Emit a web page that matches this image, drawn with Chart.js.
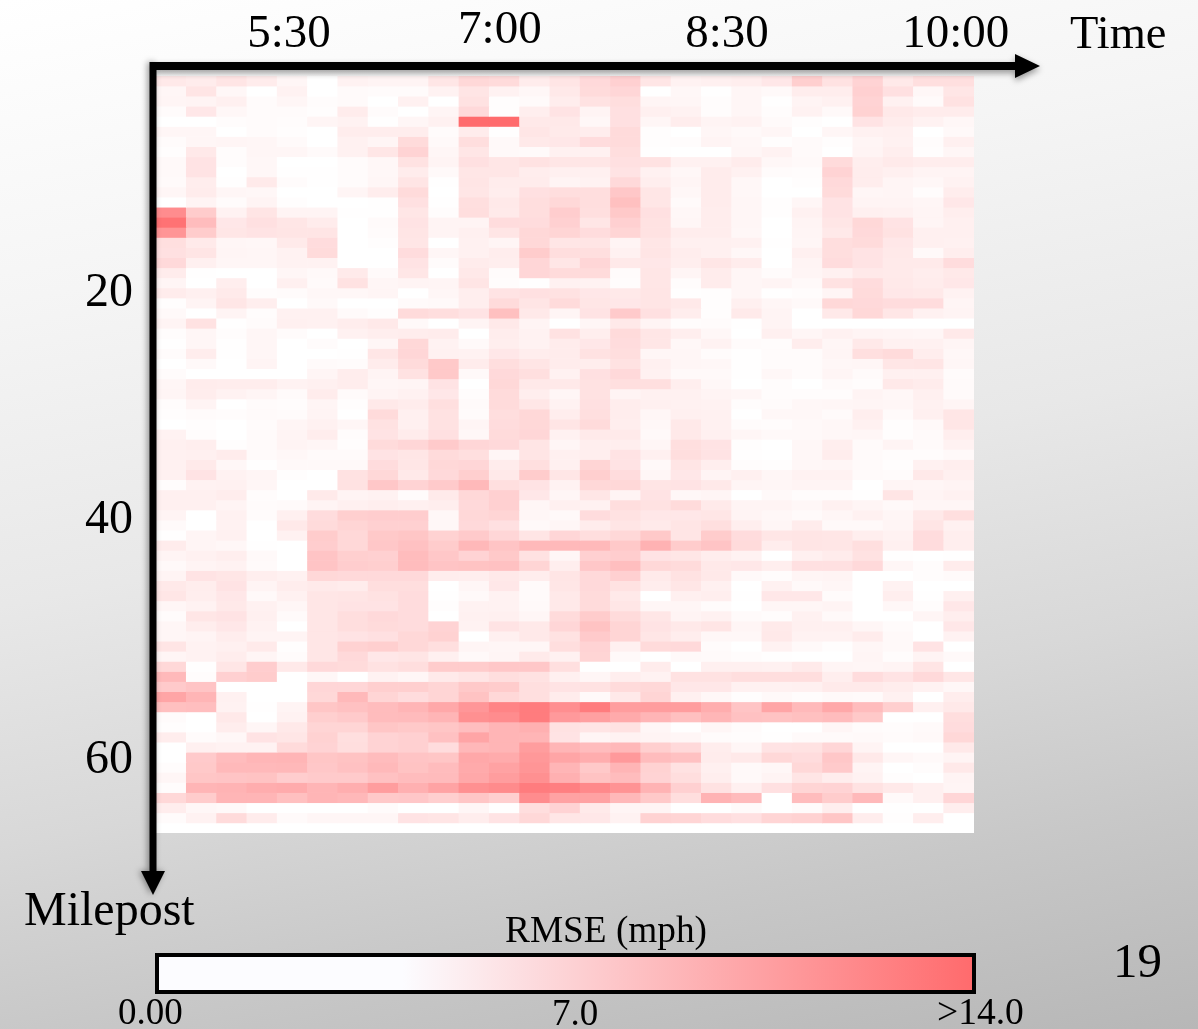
<!DOCTYPE html>
<html lang="en">
<head>
  <meta charset="UTF-8">
  <title>RMSE by Time and Milepost</title>
  <script src="https://cdn.jsdelivr.net/npm/chart.js"></script>
  <style>
    html, body { margin: 0; width: 1198px; height: 1029px; overflow: hidden; }
    body {
      position: relative;
      background: linear-gradient(169deg, #ffffff 0%, #f5f5f5 24%, #e8e8e8 48%, #d8d8d8 67%, #c8c8c8 82%, #b7b7b7 100%);
      font-family: "Liberation Serif", serif;
      color: #000;
    }
    #heatmap { position: absolute; left: 0; top: 0; }
    .label { position: absolute; line-height: 1; white-space: nowrap; }
    #colorbar {
      position: absolute; left: 155px; top: 953px; width: 813px; height: 33px;
      border: 4px solid #000;
    }
  </style>
</head>
<body>
  <canvas id="heatmap" width="1198" height="1029"></canvas>
  <div class="label" style="left:1070px; top:10px; font-size:46.5px">Time</div>
  <div class="label" style="left:24px; top:885px; font-size:48px">Milepost</div>
  <div class="label" style="left:505px; top:911px; font-size:37.3px">RMSE (mph)</div>
  <div class="label" style="left:1113px; top:936px; font-size:49px">19</div>
  <div id="colorbar"></div>
  <div class="label" style="left:118px; top:993px; font-size:37px">0.00</div>
  <div class="label" style="left:552px; top:994px; font-size:37px">7.0</div>
  <div class="label" style="left:937px; top:993px; font-size:37.5px">&gt;14.0</div>
  <script>
    // tick labels, hand placed on the slide so they sit at fractional cells
    const timeLabels = ['5:30', '7:00', '8:30', '10:00'];
    const timeCols = [4.39, 11.35, 18.85, 26.4];
    const milepostLabels = ['20', '40', '60'];
    const milepostRows = [21.5, 44, 67.8];

    // colour scale: white up to 30% of the bar, then up to full red at 14 mph
    const rmseMax = 14;
    const whiteUntil = 0.3;
    const lowColor = [255, 255, 255];
    const highColor = [255, 107, 109];

    // RMSE in mph, one row per milepost step, one value per time step
    const rmse = [
      [6,5.8,6.3,5.8,5,4,5.3,5.2,5.2,6.2,7.2,7,5.8,6.3,7.1,7.7,6.2,5.3,5.5,5.6,6.1,7.8,6.5,7.5,6,6.7,6.7],
      [5,6.3,4.9,4,5.3,4,4.7,4.6,4.6,5.3,6.3,5.3,4.9,6,7,7.3,4.2,4.9,4.3,5,4.8,5.7,5.7,7.7,6.6,4.9,6.2],
      [5.1,5.2,5.5,4.6,5,4.5,4.7,4,5.4,4.2,6.5,4.4,4.7,5.7,6.5,6.8,5.1,5,4.5,5,4.3,5.2,5.4,7.5,5.4,4.7,6.5],
      [4.6,6.1,4.9,4.6,4.6,4.4,5.8,4.6,4.1,5.1,7.1,4.4,5.6,6.4,5.2,6.6,5.5,5.3,4.5,5,4.5,5.3,4.8,7.6,6,5.8,5.8],
      [4,4,4.5,4.6,4.5,5.1,5.3,4.3,5,5.4,14,14,6,6,4.9,6.6,5,5.7,5.2,5.3,4.7,4.4,4,6.4,5.8,5.3,4.9],
      [5,5,4.1,4.6,4.4,4.2,5.7,5.7,5.7,4.6,5.8,4.3,6.2,5.9,5.7,7,4.4,4,5,4.8,5,4,5,5.4,5.5,4,4.8],
      [4.6,5,5.1,5,4.7,4.2,5.4,5.1,7,4.8,6.8,4.8,6,6.1,6.9,7,4.4,4.5,5.2,4.9,4.4,4.7,4.4,5.1,5.4,4.5,5.5],
      [4.4,6,4.5,5,5,4.7,5.4,6.2,7.5,5,6.2,4.8,4.7,5.4,5.4,6.8,4.3,4,4,5,5.3,4.7,4.2,5.2,5.6,4.4,5],
      [4.8,6.4,4.5,4.9,4.1,4.1,4.6,4.9,6.5,5.2,6.6,6.2,6.5,6.2,6.2,6.6,6.5,5.4,5.4,5.8,4.9,4.8,7,5.6,5.9,5.7,5.7],
      [4.8,6.4,4,4.9,4.3,4.3,4.6,4.9,5.8,4.8,6.2,6.2,5.7,5.5,5.5,6.4,5.4,4.9,5.8,5.4,4.6,4.5,7.5,5.7,5.5,5.2,5.2],
      [4.7,5.7,4.3,5.9,4.6,4.3,4.6,5,6.3,4.3,6.3,5.8,5.8,5.2,5.3,7.1,5.6,5.1,5.8,4.9,4.1,4.4,7.1,5.7,5.1,4.9,5.3],
      [5,5.8,5,4.9,4.2,4,5.1,5.7,7,4.1,6.2,5.7,6.6,6.8,6.8,8.3,6.2,4.9,5.8,4.9,4,4,7,5,5.1,4.5,5.7],
      [4,5.2,4.6,5.2,4.4,4,4.1,4.3,6.6,4.3,6.7,6,6.8,7.2,6.8,8.8,6.2,4.7,5.8,5,4.4,5,6.4,5.2,5.2,5,6.1],
      [12,8,5.3,6.3,5.2,5.2,4.3,4.3,6.2,4.5,6.8,5.9,6.8,7.9,6.7,8.2,6.6,4.9,5.7,5,4.4,5.4,6.4,5.5,5.4,5.1,5.6],
      [13.6,9,6.1,6.6,6.2,5.8,4,4.7,6.4,5.2,5.2,6.9,6.9,7.7,6.2,7.7,6.5,5,5.7,5,4.1,5.2,6.2,7.2,6.4,5.1,5.5],
      [11.5,8,6.2,6.4,6.3,6.3,4,4.6,6.3,5.2,5.5,6.3,7.2,7.4,6.9,7.4,6.5,5.7,5.7,4.9,4,5.1,6,7.1,6.5,5.5,5.5],
      [6.7,5.9,5,4.9,5.9,6.9,4,4.4,6.2,4.1,5.4,5.1,7.2,6.2,6.3,5.2,6.2,5.5,5.5,5.4,4.3,5,6.8,7,6.1,5.5,5.4],
      [6.6,6.3,5.1,5,5.3,7,4.1,4.1,6.9,5,5.4,5.7,8,6.8,6.7,5.4,6.3,5.7,5.5,4.9,4.2,5.5,6.8,6.4,6,4.8,5.6],
      [7.1,5.5,5,5,5.3,5.3,4.1,4.1,6.4,4.6,5.8,5.6,7.3,6.2,7.3,6,6.1,5.6,6.2,5.8,4.2,5.2,6.9,6.4,5.9,5.9,6.9],
      [5.8,4.3,4.2,4,5,4.8,5.9,4.7,6.2,4.1,6,4.6,7.3,7,7,4.6,6.2,5.1,5.8,5,4.6,5.1,5.4,6,5.9,5.7,6],
      [5.1,4.2,5.6,4,5.5,4.7,6.5,5,5.2,5.1,6.3,4.5,4.3,5.4,5.3,4.5,6.2,4.5,5.8,5,5.2,4.8,6.5,6.9,6,5.8,6.1],
      [5.8,5.5,5.9,4.5,4.6,4.9,4.9,5.1,4.1,5,5.6,6.4,6.6,6.5,6.1,6,6.3,4.3,4.4,5,4.3,4.5,5.1,7,6.1,6,5.3],
      [4.4,5.2,6.2,5.6,4.2,4.8,4.2,4.2,4.7,4.8,5.6,7,6.3,7,6.2,6.1,6.3,6,4.4,5.5,5,4.8,7.2,7.1,6.9,6.9,5.1],
      [4.8,4,5.2,4.5,5.4,5.4,4.7,4.4,7,6.8,6.4,8.8,6,5.1,6.4,8.1,6.6,5.7,4.4,5.9,5.2,4.1,6,7.2,6.2,5.4,5.2],
      [5.2,6.5,4.3,4.6,5.5,5.4,5.7,6,4.8,4.2,5.2,6,5.2,4.2,5,6,5.2,4.5,4.6,4.3,5.2,4,4.2,4,4,4.2,4],
      [4.5,5,4.5,5,4.6,4.1,5.4,5.6,5.7,5.8,4.2,5.7,5.3,6.5,5.6,7,6.2,5.6,4.9,4.2,5.5,5,5.4,5.2,5.1,5,6],
      [4.3,5,4.3,5,4,4.6,4,5,7.2,5.3,4.8,5.6,5.3,5.8,6.1,6.9,6.2,4.9,5.3,4.6,4.5,5.7,5,6,5.4,5.4,5.1],
      [4.6,5.7,4.3,5,4.1,4.2,4.3,6.2,7.3,5.4,5.3,6.1,5.7,5.8,6.5,6.8,5,5,4.6,4.3,4.6,4.6,5.1,6.7,7,5.7,4.9],
      [4,4.8,4.2,5.2,4.2,4.7,4.6,5.8,7,8.2,5.8,6.8,6.3,5.8,5.7,6.5,5.5,5,4.9,4.3,4.6,4.6,4.9,5,6.2,6.3,5],
      [4.6,4.1,4,4.2,4.2,5.1,5.7,5.2,6.5,8.2,4.8,7.1,6.7,5.4,6.6,7.1,5.4,4.8,4.8,4.3,4.9,4.6,5.1,4.7,5.5,5.5,4.6],
      [5,5.8,5.7,5.7,5.3,5.5,5.7,5,5.1,6.4,4,7.2,6,6,6.5,6.7,6.7,5.6,4.9,4,4.5,4,4.7,4.5,6,5.8,4.7],
      [5.1,5.7,5.3,5.1,4.7,5.8,4.7,5.2,5.4,6.1,4.5,7,5.6,5,6.5,5.2,5.4,5.4,5.2,5,4.5,4.5,4.5,5.2,4.9,5.5,4.7],
      [4.5,5.2,4.2,4.6,4.5,5.1,4.4,6,5.8,6.7,4.7,7,6.2,5.3,6.6,5.7,5.5,5.4,5.3,4.5,4.6,4.9,5,5.1,5,5.4,5.1],
      [4.4,4.6,4.5,4.7,4.6,5.2,4,7,5.5,6.5,4.6,6.8,7.2,5.7,6.7,5.7,5,5.5,5.4,4.2,4.9,4.9,4.7,5.6,4.7,5.5,6.2],
      [4,4.4,4,4.6,5.1,5.4,5,6.5,5.5,6.5,5.1,6.9,7.2,6.3,7,5.6,4.9,6,5.4,4.6,4.5,4.8,4.9,5.4,4.4,4.8,6.2],
      [5.3,4.5,4.2,4.7,5.2,5.7,4.5,6.4,5.8,6.6,4.9,7,7.3,5.4,5.9,5.9,4.8,6,5.5,5,4.8,4.8,4.9,5,4.4,4.7,5.6],
      [5.5,5.6,4.4,4.7,5.2,5,4.4,7,7.3,8.1,7.3,7.1,6.3,5,5.6,5.6,5,6.7,6.4,4.4,4,4.9,5.6,4.7,5.2,4.7,5.3],
      [5.4,5.5,5.8,4.7,4.9,4.7,4.7,6.4,6.2,7,6.7,5,6.3,5.5,5.6,6.4,5.5,6.8,6.4,4.3,4.2,4.9,5.7,4.7,4.5,4.5,4.8],
      [5.4,5.9,4.9,4.3,4.8,4.8,4.8,6.9,6.2,7.2,7.3,5.8,6.7,5.5,7.4,6.4,4.8,6.3,5.6,4.5,4.4,4.9,5,4.7,4.4,5.4,5.6],
      [5.4,6.4,5.3,5.1,4.4,4.2,6.5,7.2,6,7.1,7.8,6,8,6.2,7.8,6.9,5,6.1,5.2,5.5,5,5.3,5.3,4.7,4.6,6,5.5],
      [4.5,5.3,5.4,5,4.1,4,6.5,8.3,7.5,8.1,9.2,6.7,6.4,5.3,7.2,7.2,6.3,6.4,6,5.1,5,5.2,5.2,4.1,5.1,5,5.2],
      [5.5,5.5,5.7,4.5,4,5.9,5.2,5.3,4.6,5.9,7.2,7.7,6.1,5,6.2,5.2,6.4,4.9,5.1,4,4.8,4.5,4.5,4.3,6.3,5.2,5.4],
      [5.5,5.5,5.2,4.6,4.7,5.2,5.5,5.6,5.5,5.6,7.1,7.7,5,5.5,5.4,6.8,6.5,7,5.9,5.2,5.2,4.9,5.4,5.1,4.8,5,5],
      [5.2,4,5.4,4.6,5.5,6.9,7.8,7.9,7.9,4.9,7.2,7.4,5,4.8,6.9,6.5,6.1,6.1,6.2,5.2,4.9,4.7,5,5.4,5,6,6.7],
      [4.7,4,5.3,4,6,7,7.4,7.7,7.7,4.9,7.1,6.6,4.8,5,5.8,6.3,5.9,6.3,6.7,5.6,5,5.8,4.8,4.8,5.1,6.3,5.4],
      [4.3,5.1,5.4,4,5.4,8,7.2,8.2,8.4,7.6,8.1,7.3,6.3,7.3,6.8,7.2,8.2,6.3,8,6.9,6.2,6.3,6.2,5.6,5.3,6.9,5.6],
      [5.8,5.1,4.9,4.3,4,7.9,7.2,8.3,8.7,8,9.3,8.5,9.2,9.2,9.2,8.2,9.7,8,8.5,7,5.7,6.3,6.2,6.7,5.5,6.9,5.6],
      [5.2,5.4,5.6,4.8,4,8.5,7.8,7.7,9,8.3,7.5,8.2,6.5,5,7.7,7.9,6.4,6.2,5.7,5.3,4.2,5.5,5.8,6.5,4.3,4,4.3],
      [4.8,5.2,5.3,4.7,4.2,8.5,7.9,7.8,9,8.5,8.6,8.7,7.4,5.6,8.3,8.9,7.2,7,6,6.1,5.6,6.6,6.6,7.1,5,4.5,5.8],
      [5.2,6.4,6.2,5.6,5.4,7.2,7.1,7.1,7.1,5.7,5.6,6,5.7,6.3,7.1,7.7,5.9,6.5,6,4.8,4.5,5.1,5.2,4,4,4.5,4.7],
      [6,5.7,6.4,5.2,5.7,5.9,5.8,6.8,6.8,4,5,6.1,4.7,6.2,7.1,6.5,5.7,6.2,5.5,4,5.4,4.8,5,4.2,5.3,4,4.2],
      [6.2,5.6,6.1,4.8,5.4,6.2,6.3,6.5,6.9,4.3,4.8,5.3,4.7,6,7,6,4,5.5,5.6,4.3,6.1,6.1,4.6,4,5.6,4.3,5.5],
      [5,5.3,6,5.4,5,6.2,6.4,6.4,6.9,4.4,5.3,5.3,4.8,6,7,6.2,5,5,4.6,4.1,5,5,5.2,4.2,4.9,4.5,6.1],
      [4.6,6.2,6.4,5.5,4.7,6.2,6.8,7.1,6.9,4,5.4,5.5,5,7,8,7,6.2,5.2,5.4,4.7,4.5,5.4,4.8,4.1,4.2,5.1,5.6],
      [5,5.7,6.1,5.3,4.2,6.2,6.8,7,6.9,7.5,5.3,6.4,6,7.3,8.6,7.4,6.4,6,6.3,5.1,5.9,5.5,5.5,5,4.6,4,6.1],
      [5,5.2,5.7,5.2,5.2,6.2,6.4,6.6,7.2,7.6,4.1,5.5,6,6.5,8.1,7.4,6.2,5.7,4.9,4.9,6,5.3,5.3,5.8,4.8,4,5.3],
      [6.3,5.3,5.5,5.9,4.4,6.2,7.6,7.8,7.2,6.7,5.1,5,5,6.8,7.5,5.5,7,7.1,4.6,4.1,5.3,4.8,4.4,5,4.8,6.4,4],
      [5.1,5.3,5.7,5.1,4.6,6.2,7.1,6.1,6.3,5.5,4.8,5.1,5.9,5.4,7.4,4.8,4,4.8,4.7,4.5,4.3,4.2,4.2,5.1,4.5,5.2,4.8],
      [7.2,4.3,6.2,7.9,6,7.1,7,6.5,6.8,8,8,8.3,8.3,6.7,4.1,4,5.8,4.1,5.5,5.5,5.4,5.9,5.1,5,5.2,6.3,4.2],
      [9.2,4.5,7.7,8,4,4.9,4,5.3,5,5.9,6.3,6.8,6.5,5.5,5,5.6,5.3,6.5,6.5,6.8,6.8,6.8,5.6,6.9,6.4,7.1,6.2],
      [8.1,8.5,4.1,4,4,7.3,7.3,7.8,7.8,7.4,8.2,8,6.7,6.4,6.5,7,7.2,6.1,6.1,5.4,5.4,5.5,5.9,5.9,5.7,5.3,4.9],
      [10.5,9.5,5.4,4.2,4.1,7.2,9.2,7.4,6.9,7.4,8.6,7.2,6.7,5.8,4.8,6,7.4,5.5,4.9,4.4,4.8,4.5,4.8,4.7,5.4,4,5.7],
      [8.8,8.9,5.3,4.3,5.2,8.4,8.7,9,9.5,10.3,11.4,12.5,13,11.9,13,11,11,11,10,8.5,10.5,9.2,10.3,9,7.8,5.5,6],
      [4.6,4,6,4.2,5.3,7.8,8.1,9,9.1,9.5,11.8,12,13,11.2,10.8,10.2,9.5,8.8,9.4,8.7,8.6,8.8,9,8.2,4,4,6.8],
      [4.4,4.2,5.7,5,6,7.4,7.4,8.4,8.2,8.4,8.9,9.5,9.8,6.5,6.3,6.5,5,4.3,5,4.6,4.1,4.1,5,4.6,4.5,4.7,6.9],
      [5.7,4.6,4.9,6.4,6.2,7.6,6.7,7.5,7.7,8.7,10.5,9.5,9.5,6.4,5.1,5.3,5.2,5,4.6,4.5,4.3,4.7,4.7,4.8,4.6,4.8,7.2],
      [4.2,5.5,5.3,5.3,7,7.5,6.8,7.5,7.7,6.9,9.3,9.5,11,9.5,9,9.3,7.8,7.1,5.7,5,6.4,6.5,7.3,5.2,4.2,4,6],
      [4,8.1,9,9.4,9.5,8.4,8.6,9,8.5,8.4,10.3,10.1,11.3,10.5,10,11.2,9,8.7,5.8,6,7.2,6.9,8.3,6,5,4.8,5.2],
      [4.5,8.2,9.2,9.2,9.3,8.3,8.7,9.2,8.6,9,10.2,10.7,11.5,9.5,8.2,9.5,7.6,6.5,5.5,4.8,4.9,7.2,8.1,5.2,4.2,4.5,6],
      [5,8.4,8.5,8.6,7.9,8.1,8.1,8.7,9,9.1,10.3,11,11.8,9.8,8.6,9,7.5,6.8,5.6,4.8,5.2,6.3,5.7,5.3,4.4,4,5.2],
      [4.5,9.5,9.6,10,10.1,9.5,9.9,11,9.8,10.6,11.8,12.1,13,12.8,12.2,11.6,9.6,7.7,6.5,5.5,6.6,7.4,7.5,6.5,6,5.5,5.1],
      [7.2,8,9.5,9.5,8.8,9.5,9.3,8.2,8.3,7.8,8.4,7.8,12,10.7,10.7,9.3,8.2,6.8,9.6,9.1,4.2,9,8,9.2,4.8,5.5,7.3],
      [5.7,4.9,4.8,4,4.2,4,4,4.6,4,4,5,4.3,6.8,7.5,5.9,5.1,5.2,4,4,4.7,4,4.6,5.6,4,4.3,4,5.6],
      [4.6,5.3,7,5.8,4.7,5,5,5,6.4,6.3,5.7,6.4,7.2,6.2,6.1,5.3,7.6,7.4,6.9,6.6,7.4,7.6,8.4,5.7,4.4,5.6,4],
      [4,4,4,4,4,4,4,4,4,4,4,4,4,4,4,4,4,4,4,4,4,4,4,4,4,4,4]
    ];

    function rmseColor(v) {
      const t = Math.max(0, Math.min(1, (v / rmseMax - whiteUntil) / (1 - whiteUntil)));
      // the cells came out a touch strong against the slide, soften the low end
      const s = Math.pow(t, 1.12);
      const c = lowColor.map((low, i) => Math.round(low + (highColor[i] - low) * s));
      return `rgb(${c[0]},${c[1]},${c[2]})`;
    }

    document.getElementById('colorbar').style.background =
      `linear-gradient(90deg, #fcfcff ${whiteUntil * 100}%, rgb(${highColor.join(',')}) 100%)`;

    const timeSteps = rmse[0].map((_, i) => i);

    // one stacked dataset per row, every bar is one row tall
    const datasets = rmse.map(row => ({
      data: row.map(() => 1),
      backgroundColor: row.map(rmseColor),
      borderWidth: 0,
      barPercentage: 1,
      categoryPercentage: 1,
    }));

    const serif = '"Liberation Serif", serif';

    function drawArrow(ctx, x1, y1, x2, y2, thick, headLen, headWidth) {
      const a = Math.atan2(y2 - y1, x2 - x1);
      ctx.save();
      ctx.fillStyle = '#000';
      ctx.shadowColor = 'rgba(0,0,0,0.4)';
      ctx.shadowBlur = 6;
      ctx.shadowOffsetY = a === 0 ? 3 : 0;
      ctx.shadowOffsetX = a === 0 ? 0 : -2;
      ctx.translate(x1, y1);
      ctx.rotate(a);
      const len = Math.hypot(x2 - x1, y2 - y1);
      ctx.beginPath();
      ctx.moveTo(0, -thick / 2);
      ctx.lineTo(len - headLen, -thick / 2);
      ctx.lineTo(len - headLen, -headWidth / 2);
      ctx.lineTo(len, 0);
      ctx.lineTo(len - headLen, headWidth / 2);
      ctx.lineTo(len - headLen, thick / 2);
      ctx.lineTo(0, thick / 2);
      ctx.closePath();
      ctx.fill();
      ctx.restore();
    }

    const axisArrows = {
      id: 'axisArrows',
      beforeDatasetsDraw(chart) {
        const { ctx, chartArea } = chart;
        ctx.save();
        ctx.fillStyle = '#fff';
        ctx.fillRect(chartArea.left, chartArea.top, chartArea.width, chartArea.height);
        ctx.restore();
      },
      afterDraw(chart) {
        const { ctx, chartArea } = chart;
        drawArrow(ctx, chartArea.left - 2, chartArea.top - 10, chartArea.right + 66, chartArea.top - 10, 8, 25, 24);
        drawArrow(ctx, chartArea.left - 3, chartArea.top - 14, chartArea.left - 3, chartArea.bottom + 62, 7, 24, 24);
      },
    };

    new Chart(document.getElementById('heatmap').getContext('2d'), {
      type: 'bar',
      data: { labels: timeSteps, datasets },
      plugins: [axisArrows],
      options: {
        responsive: false,
        animation: false,
        events: [],
        layout: { padding: { left: 0, top: 0, right: 224, bottom: 196 } },
        plugins: { legend: { display: false }, tooltip: { enabled: false } },
        scales: {
          x: { stacked: true, display: false },
          xTime: {
            type: 'linear',
            axis: 'x',
            position: 'top',
            offset: false,
            min: 0,
            max: rmse[0].length,
            grid: { display: false, drawTicks: false },
            border: { display: false },
            afterFit(scale) { scale.height = 76; },
            afterBuildTicks(scale) { scale.ticks = timeCols.map(value => ({ value })); },
            ticks: {
              autoSkip: false,
              maxRotation: 0,
              padding: 15,
              color: '#000',
              // 7:00 sits a little higher on the slide
              font: ctx => ({ family: serif, size: 47, lineHeight: ctx.index === 1 ? 1.27 : 1.14 }),
              callback: (value, index) => timeLabels[index],
            },
          },
          y: {
            stacked: true,
            reverse: true,
            min: 0,
            max: rmse.length,
            position: 'left',
            grid: { display: false, drawTicks: false },
            border: { display: false },
            afterFit(scale) { scale.width = 156; },
            afterBuildTicks(scale) { scale.ticks = milepostRows.map(value => ({ value })); },
            ticks: {
              autoSkip: false,
              padding: 23,
              color: '#000',
              font: { family: serif, size: 48 },
              callback: (value, index) => milepostLabels[index],
            },
          },
        },
      },
    });
  </script>
</body>
</html>
